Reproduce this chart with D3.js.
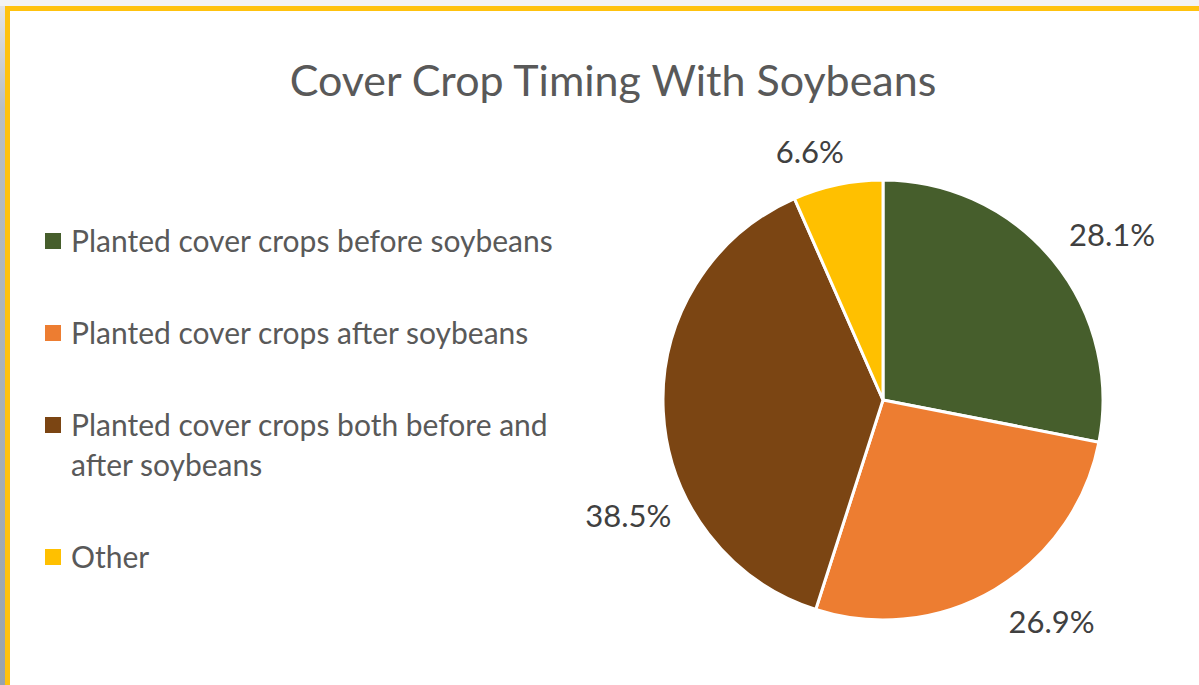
<!DOCTYPE html>
<html>
<head>
<meta charset="utf-8">
<script src="https://cdn.jsdelivr.net/npm/d3@7"></script>
<style>
  html, body { margin: 0; padding: 0; background: #ffffff; }
  svg { display: block; }
</style>
</head>
<body>
<div id="chart"></div>
<script>
// Chart data
const categories = [
    "Planted cover crops before soybeans",
    "Planted cover crops after soybeans",
    "Planted cover crops both before and after soybeans",
    "Other"
];
const shares = [28.1, 26.9, 38.5, 6.6];
const sliceColors = ["#465e2c", "#ed7d31", "#7b4513", "#ffc000"];
// legend text broken the way the picture wraps it
const legendLines = [
    ["Planted cover crops before soybeans"],
    ["Planted cover crops after soybeans"],
    ["Planted cover crops both before and", "after soybeans"],
    ["Other"]
];

const width = 1199;
const height = 685;
const cx = 883;
const cy = 400;
const radius = 220;
const fontFamily = "Lato, 'Open Sans', sans-serif";

// Per-slice label placement tweaks (angle shift in degrees, distance from center)
const labelShift = [3.8, -6.6, -21.6, -4.6];
const labelDist = [282, 279, 280, 258];

const svg = d3.create("svg")
    .attr("width", width)
    .attr("height", height)
    .attr("viewBox", [0, 0, width, height]);

// ----------------------------
// Frame (gold border, grey edges)
// ----------------------------
svg.append("rect")
    .attr("x", 0).attr("y", 0)
    .attr("width", width).attr("height", 6)
    .attr("fill", "#f3f3f3");

const edge = svg.append("defs").append("linearGradient")
    .attr("id", "edge")
    .attr("x1", 0).attr("y1", 0).attr("x2", 0).attr("y2", 1);
edge.append("stop").attr("offset", "0").attr("stop-color", "#e4e4e4");
edge.append("stop").attr("offset", "0.15").attr("stop-color", "#b8bec4");
edge.append("stop").attr("offset", "1").attr("stop-color", "#98a3ad");

svg.append("rect")
    .attr("x", 0).attr("y", 6)
    .attr("width", 5).attr("height", height - 6)
    .attr("fill", "url(#edge)");

svg.append("rect")
    .attr("x", 5).attr("y", 6)
    .attr("width", width - 5).attr("height", 5)
    .attr("fill", "#ffc20e");

svg.append("rect")
    .attr("x", 5).attr("y", 6)
    .attr("width", 5).attr("height", height - 6)
    .attr("fill", "#ffc20e");

// ----------------------------
// Title
// ----------------------------
svg.append("text")
    .attr("x", 613)
    .attr("y", 96)
    .attr("text-anchor", "middle")
    .style("font-family", fontFamily)
    .style("font-size", "43px")
    .style("fill", "#595959")
    .text("Cover Crop Timing With Soybeans");

// ----------------------------
// Pie
// ----------------------------
const pie = d3.pie()
    .value(d => d)
    .sort(null);

const arcs = pie(shares);

const arc = d3.arc()
    .innerRadius(0)
    .outerRadius(radius);

const color = d3.scaleOrdinal()
    .domain(categories)
    .range(sliceColors);

const pieG = svg.append("g")
    .attr("transform", `translate(${cx},${cy})`);

pieG.selectAll("path")
    .data(arcs)
    .join("path")
        .attr("d", arc)
        .attr("fill", (d, i) => color(categories[i]))
        .attr("stroke", "#ffffff")
        .attr("stroke-width", 3)
        .attr("stroke-linejoin", "round");

// Data labels outside the pie
pieG.selectAll("text.lbl")
    .data(arcs)
    .join("text")
        .attr("class", "lbl")
        .attr("x", (d, i) => {
            const a = (d.startAngle + d.endAngle) / 2 + labelShift[i] * Math.PI / 180;
            return Math.sin(a) * labelDist[i];
        })
        .attr("y", (d, i) => {
            const a = (d.startAngle + d.endAngle) / 2 + labelShift[i] * Math.PI / 180;
            return -Math.cos(a) * labelDist[i];
        })
        .attr("dy", "0.35em")
        .attr("text-anchor", "middle")
        .style("font-family", fontFamily)
        .style("font-size", "31px")
        .style("fill", "#404040")
        .text(d => d.data.toFixed(1) + "%");

// ----------------------------
// Legend
// ----------------------------
const rowStart = 241;
const rowPitch = 92;
const lineGap = 40;

let rowY = [];
let yy = rowStart;
legendLines.forEach(lines => {
    rowY.push(yy);
    yy += rowPitch + (lines.length - 1) * lineGap;
});

const legend = svg.append("g");

const items = legend.selectAll("g")
    .data(categories)
    .join("g")
        .attr("transform", (d, i) => `translate(0,${rowY[i]})`);

items.append("rect")
    .attr("x", 45)
    .attr("y", -8)
    .attr("width", 16)
    .attr("height", 16)
    .attr("fill", d => color(d));

items.append("text")
    .attr("x", 71)
    .attr("y", 0)
    .style("font-family", fontFamily)
    .style("font-size", "30px")
    .style("fill", "#595959")
    .selectAll("tspan")
    .data((d, i) => legendLines[i])
    .join("tspan")
        .attr("x", 71)
        .attr("y", (d, j) => j * lineGap)
        .attr("dy", "0.35em")
        .text(d => d);

document.getElementById("chart").appendChild(svg.node());
</script>
</body>
</html>
